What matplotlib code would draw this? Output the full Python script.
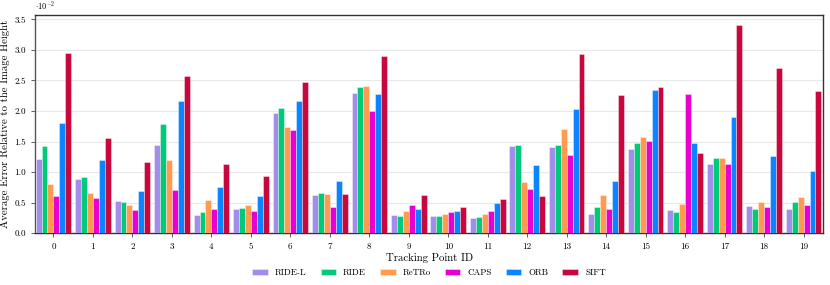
import numpy as np
import matplotlib
matplotlib.use("Agg")
import matplotlib.pyplot as plt

plt.rcParams['font.family'] = 'serif'
plt.rcParams['font.serif'] = ['cmr10']
plt.rcParams['mathtext.fontset'] = 'cm'
plt.rcParams['axes.formatter.use_mathtext'] = True
plt.rcParams['axes.unicode_minus'] = False

ids = list(range(20))
series = ["RIDE-L", "RIDE", "ReTRo", "CAPS", "ORB", "SIFT"]
colors = ["#a28de8", "#00c97a", "#ff9a4f", "#e800d0", "#0a84ff", "#c8073e"]

# values in units of 1e-2
ride_l = [1.22, 0.89, 0.52, 1.44, 0.30, 0.40, 1.96, 0.63, 2.30, 0.30, 0.28, 0.25, 1.43, 1.41, 0.32, 1.37, 0.38, 1.13, 0.44, 0.40]
ride   = [1.42, 0.92, 0.51, 1.79, 0.35, 0.41, 2.05, 0.66, 2.39, 0.28, 0.28, 0.26, 1.44, 1.44, 0.43, 1.47, 0.35, 1.23, 0.39, 0.51]
retro  = [0.80, 0.66, 0.46, 1.19, 0.55, 0.46, 1.73, 0.64, 2.41, 0.37, 0.32, 0.32, 0.84, 1.70, 0.63, 1.57, 0.47, 1.23, 0.51, 0.59]
caps   = [0.60, 0.57, 0.38, 0.70, 0.39, 0.37, 1.69, 0.42, 2.00, 0.46, 0.35, 0.36, 0.73, 1.28, 0.39, 1.51, 2.28, 1.13, 0.43, 0.46]
orb    = [1.80, 1.19, 0.69, 2.17, 0.75, 0.60, 2.17, 0.86, 2.27, 0.40, 0.36, 0.50, 1.11, 2.03, 0.85, 2.34, 1.47, 1.90, 1.27, 1.01]
sift   = [2.95, 1.56, 1.16, 2.57, 1.14, 0.94, 2.48, 0.64, 2.90, 0.62, 0.43, 0.56, 0.61, 2.93, 2.26, 2.40, 1.32, 3.40, 2.70, 2.32]

data = [ride_l, ride, retro, caps, orb, sift]

fig = plt.figure(figsize=(8.3, 2.85), dpi=100)
ax = fig.add_axes([0.042, 0.182, 0.950, 0.765])

x = np.arange(len(ids))
n = len(series)
w = 0.15
for i, (name, vals, c) in enumerate(zip(series, data, colors)):
    ax.bar(x + (i - (n - 1) / 2) * w, vals, width=w, color=c,
           edgecolor=(1, 1, 1, 0.45), linewidth=0.6, label=name, zorder=3)

ax.set_xlim(-0.47, 19.5)
ax.set_ylim(0, 3.57)
ax.set_yticks(np.arange(0, 3.51, 0.5))
ax.set_yticklabels([f"{v:.1f}" for v in np.arange(0, 3.51, 0.5)])
ax.text(0.0, 1.015, r"$\cdot 10^{-2}$", transform=ax.transAxes, fontsize=6,
        ha='left', va='bottom')
ax.set_xticks(x)
ax.set_xticklabels([str(i) for i in ids])
ax.tick_params(axis='both', labelsize=6.5, length=3, width=0.6, color='#444444')
ax.grid(axis='y', color='#e8e8e8', linewidth=0.8, zorder=0)
for s in ax.spines.values():
    s.set_color('#333333')
    s.set_linewidth(1.0)
ax.spines['left'].set_color('#555555')
ax.set_xlabel("Tracking Point ID", fontsize=7.8, labelpad=2)
ax.set_ylabel("Average Error Relative to the Image Height", fontsize=7.8, labelpad=3)

ax.legend(loc='upper center', bbox_to_anchor=(0.5, -0.125), ncol=6, frameon=False,
          fontsize=6.5, handlelength=1.7, handleheight=0.6, handletextpad=0.8,
          columnspacing=1.55)

fig.savefig("out.png", dpi=100)
